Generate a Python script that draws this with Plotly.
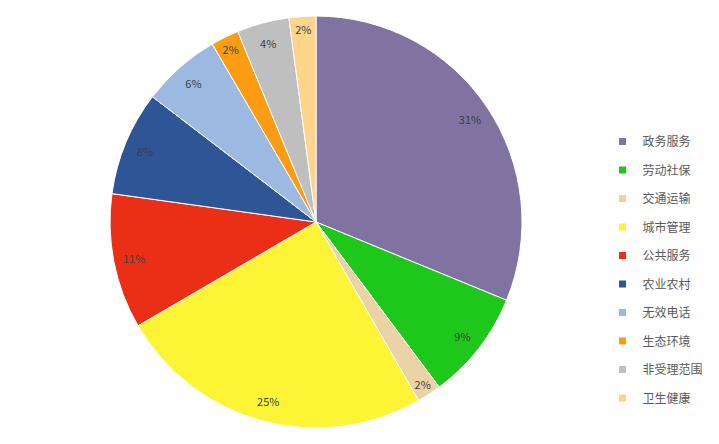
import plotly.graph_objects as go

# categories and shares (%)
categories = ['政务服务', '劳动社保', '交通运输', '城市管理', '公共服务',
              '农业农村', '无效电话', '生态环境', '非受理范围', '卫生健康']
shares = [31.2, 8.6, 1.9, 24.9, 10.6, 8.2, 6.2, 2.2, 4.1, 2.1]
colors = ['#8072a1', '#1dc81b', '#ebd3a6', '#fcf434', '#eb2f16',
          '#2e5596', '#9cbae1', '#fb9c13', '#bfbfbf', '#fdd48c']

font_family = 'Noto Sans CJK SC, Microsoft YaHei, sans-serif'
pie_domain = dict(x=[0.153, 0.726], y=[0.036, 0.964])

fig = go.Figure()

# the pie itself
fig.add_trace(go.Pie(
    labels=categories,
    values=shares,
    sort=False,
    direction='clockwise',
    rotation=0,
    marker=dict(colors=colors, line=dict(color='white', width=1)),
    textinfo='none',
    hoverinfo='label+percent',
    showlegend=False,
    domain=pie_domain,
))

# transparent ring on top, just to put the % labels near the rim
fig.add_trace(go.Pie(
    labels=categories,
    values=shares,
    sort=False,
    direction='clockwise',
    rotation=0,
    hole=0.8,
    marker=dict(colors=['rgba(0,0,0,0)'] * len(categories), line=dict(width=0)),
    texttemplate='%{percent:.0%}',
    textposition='inside',
    insidetextorientation='horizontal',
    textfont=dict(size=11, color='#404040', family=font_family),
    hoverinfo='skip',
    showlegend=False,
    domain=pie_domain,
))

# legend entries (square markers, spaced out like the original)
for name, col in zip(categories, colors):
    fig.add_trace(go.Scatter(
        x=[None], y=[None], mode='markers', name=name,
        legendgroup=name,
        marker=dict(symbol='square', size=7, color=col),
    ))

fig.update_layout(
    width=719, height=444,
    margin=dict(l=0, r=0, t=0, b=0),
    paper_bgcolor='white',
    plot_bgcolor='white',
    font=dict(family=font_family, color='#595959'),
    xaxis=dict(visible=False),
    yaxis=dict(visible=False),
    legend=dict(
        x=0.838, y=0.392, xanchor='left', yanchor='middle',
        font=dict(size=12, color='#595959', family=font_family),
        tracegroupgap=9.5,
        bgcolor='rgba(0,0,0,0)',
    ),
)

# drop the default body margin so the figure sits at the window corner
fig.write_html("out.html", config={'displayModeBar': False},
               post_script="document.body.style.margin='0';")
